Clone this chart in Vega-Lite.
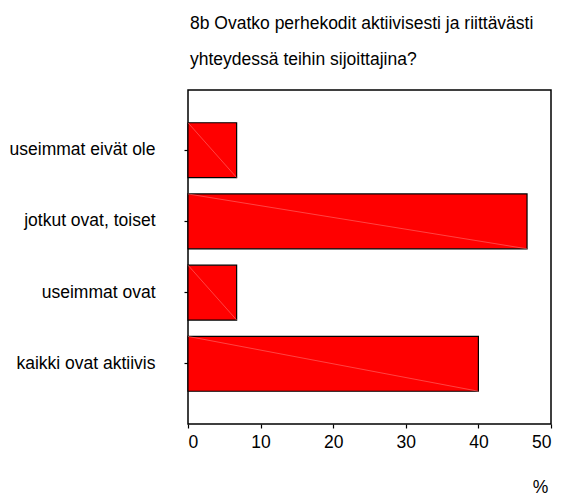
{
  "$schema": "https://vega.github.io/schema/vega-lite/v6.json",
  "autosize": "none",
  "width": 363,
  "height": 334,
  "padding": {"left": 188, "top": 90, "right": 10, "bottom": 71},
  "title": {
    "text": ["8b Ovatko perhekodit aktiivisesti ja riittävästi", "yhteydessä teihin sijoittajina?"],
    "anchor": "start",
    "frame": "group",
    "font": "Liberation Sans",
    "fontSize": 17.5,
    "fontWeight": "normal",
    "color": "#000000",
    "lineHeight": 36,
    "offset": 22,
    "dx": 2
  },
  "config": {
    "view": {"stroke": "#000000", "strokeWidth": 1.5},
    "font": "Liberation Sans",
    "axis": {
      "grid": false,
      "domainColor": "#000000",
      "domainWidth": 1.5,
      "tickColor": "#000000",
      "tickWidth": 1.2,
      "tickSize": 4,
      "labelFont": "Liberation Sans",
      "labelFontSize": 17.5,
      "labelColor": "#000000",
      "titleFont": "Liberation Sans",
      "titleFontWeight": "normal",
      "titleFontSize": 17.5,
      "titleColor": "#000000"
    }
  },
  "data": {
    "values": [
      {"vastaus": "useimmat eivät ole", "pct": 6.7},
      {"vastaus": "jotkut ovat, toiset", "pct": 46.7},
      {"vastaus": "useimmat ovat", "pct": 6.7},
      {"vastaus": "kaikki ovat aktiivis", "pct": 40.0}
    ]
  },
  "layer": [
    {
      "mark": {"type": "bar", "color": "#ff0000", "stroke": "#000000", "strokeWidth": 1.2},
      "encoding": {
        "y": {
          "field": "vastaus",
          "type": "nominal",
          "sort": null,
          "scale": {"paddingInner": 0.23, "paddingOuter": 0.46},
          "axis": {"title": null, "labelPadding": 29, "domain": false}
        },
        "x": {
          "field": "pct",
          "type": "quantitative",
          "scale": {"domain": [0, 50], "nice": false},
          "axis": {
            "values": [0, 10, 20, 30, 40, 50],
            "title": "%",
            "titleX": 352,
            "titleY": 68,
            "titleAlign": "center",
            "titleBaseline": "alphabetic",
            "labelPadding": 5,
            "domain": false
          }
        }
      }
    },
    {
      "mark": {"type": "rule", "color": "#ff7070", "strokeWidth": 0.6},
      "encoding": {
        "x": {"field": "pct", "type": "quantitative"},
        "x2": {"datum": 0},
        "y": {"field": "vastaus", "type": "nominal", "sort": null, "bandPosition": 1},
        "y2": {"field": "vastaus", "bandPosition": 0}
      }
    }
  ]
}
